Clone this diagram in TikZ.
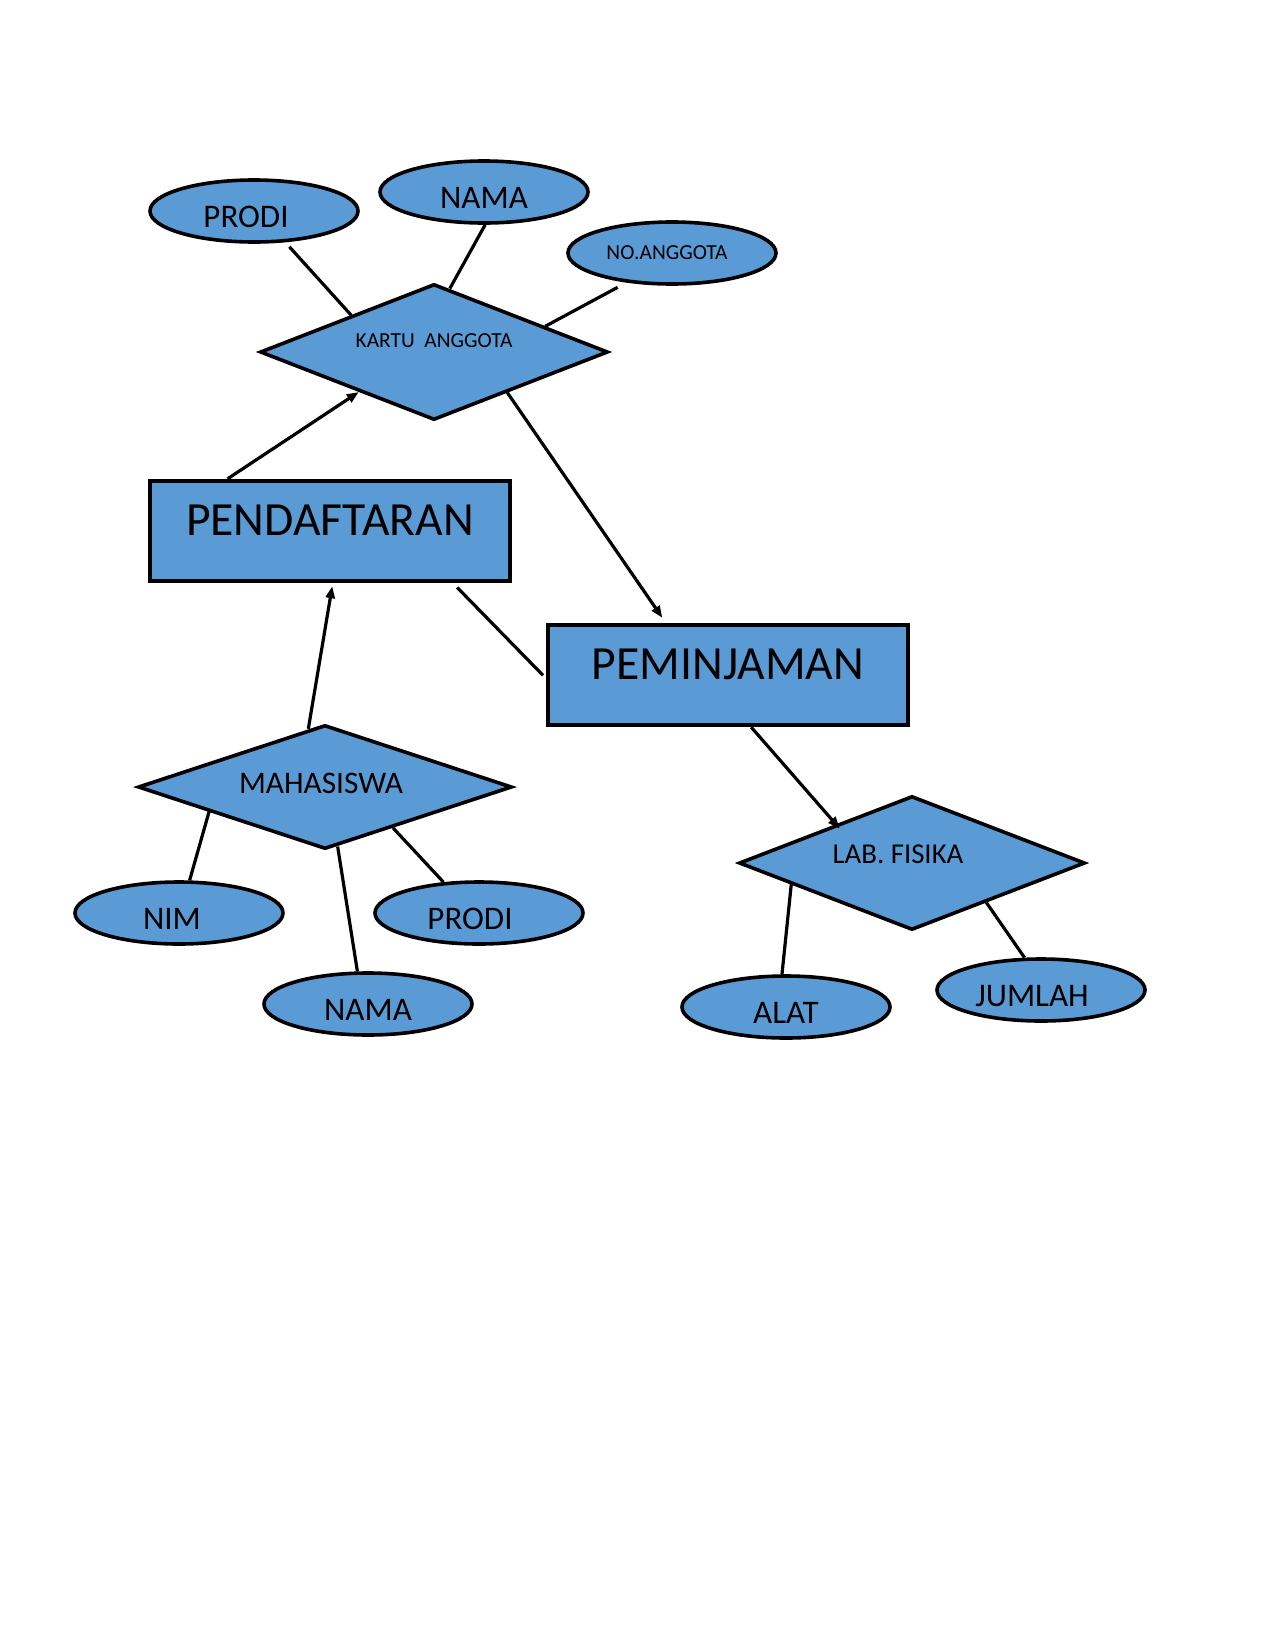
\documentclass[tikz,border=0pt]{standalone}
\usepackage{fontspec}
\setmainfont{Carlito}
\usetikzlibrary{shapes.geometric,arrows.meta}
\definecolor{erblue}{HTML}{5B9BD5}
\newcommand{\bigtxt}{\fontsize{23.8}{27}\selectfont}
\newcommand{\midtxt}{\fontsize{16.5}{19}\selectfont}
\newcommand{\mahatxt}{\fontsize{15.7}{18}\selectfont}
\newcommand{\labtxt}{\fontsize{14.4}{17}\selectfont}
\newcommand{\smalltxt}{\fontsize{10.7}{12}\selectfont}
\tikzset{
  attr/.style={ellipse,draw,fill=erblue,line width=1.8pt,minimum width=104pt,minimum height=31pt,inner sep=0pt},
  rel/.style={diamond,draw,fill=erblue,line width=1.8pt,inner sep=0pt},
  ent/.style={rectangle,draw,fill=erblue,line width=2.2pt,minimum width=180pt,minimum height=50pt,inner sep=0pt},
  link/.style={line width=1.6pt},
  arr/.style={link,-{Triangle[length=6pt,width=4.5pt]}}
}

\begin{document}
\begin{tikzpicture}[x=0.5pt,y=-0.5pt]
\useasboundingbox (0,0) rectangle (1275,1650);

\node[rel,minimum width=174pt,minimum height=68pt,label={[font=\smalltxt,yshift=5.8pt]center:KARTU~~ANGGOTA}] (kartu) at (434,352) {};
\node[attr,label={[font=\midtxt,xshift=-4pt,yshift=-3pt]center:PRODI}] (prodiA) at (254,211) {};
\node[attr,label={[font=\midtxt,yshift=-3pt]center:NAMA}] (namaA) at (484,192) {};
\node[attr,label={[font=\smalltxt,xshift=-2.5pt]center:NO.ANGGOTA}] (noagt) at (672,253) {};

\node[ent,label={[font=\bigtxt,yshift=5.3pt]center:PENDAFTARAN}] (pendaf) at (330,531) {};
\node[ent,label={[font=\bigtxt,yshift=5.3pt]center:PEMINJAMAN}] (pemin) at (728,675) {};

\node[rel,minimum width=187pt,minimum height=62pt,label={[font=\mahatxt,xshift=-2pt,yshift=1.6pt]center:MAHASISWA}] (maha) at (325,787) {};
\node[attr,label={[font=\midtxt,xshift=-3.5pt,yshift=-3pt]center:NIM}] (nim) at (179,913) {};
\node[attr,label={[font=\midtxt,xshift=-4.5pt,yshift=-3pt]center:PRODI}] (prodiB) at (479,913) {};
\node[attr,label={[font=\midtxt,yshift=-3pt]center:NAMA}] (namaB) at (368,1004) {};

\node[rel,minimum width=173pt,minimum height=67pt,label={[font=\labtxt,xshift=-7pt,yshift=4.2pt]center:LAB. FISIKA}] (lab) at (912,863) {};
\node[attr,label={[font=\midtxt,yshift=-3pt]center:ALAT}] (alat) at (786,1007) {};
\node[attr,label={[font=\midtxt,xshift=-4.5pt,yshift=-3pt]center:JUMLAH}] (jumlah) at (1041,990) {};

\draw[link,shorten <=3pt] (prodiA.-45) -- (kartu.156);
\draw[link] (namaA.-88) -- (kartu.76);
\draw[link,shorten <=5pt] (noagt.213) -- (kartu.13);
\draw[arr] (pendaf.153) -- (kartu.208);
\draw[arr,shorten >=3pt] (kartu.-29) -- (pemin.140);
\draw[link,shorten <=3pt,shorten >=2pt] (pendaf.-23) -- (pemin.181);
\draw[arr,shorten >=1.5pt] (maha.106) -- (pendaf.-87);
\draw[arr,shorten >=-3pt] (pemin.-66) -- (lab.153);
\draw[link] (maha.192) -- (nim.72);
\draw[link] (maha.-78) -- (namaB.108);
\draw[link] (maha.-31) -- (prodiB.139);
\draw[link] (lab.190) -- (alat.97);
\draw[link] (lab.-28) -- (jumlah.117);
\end{tikzpicture}
\end{document}
